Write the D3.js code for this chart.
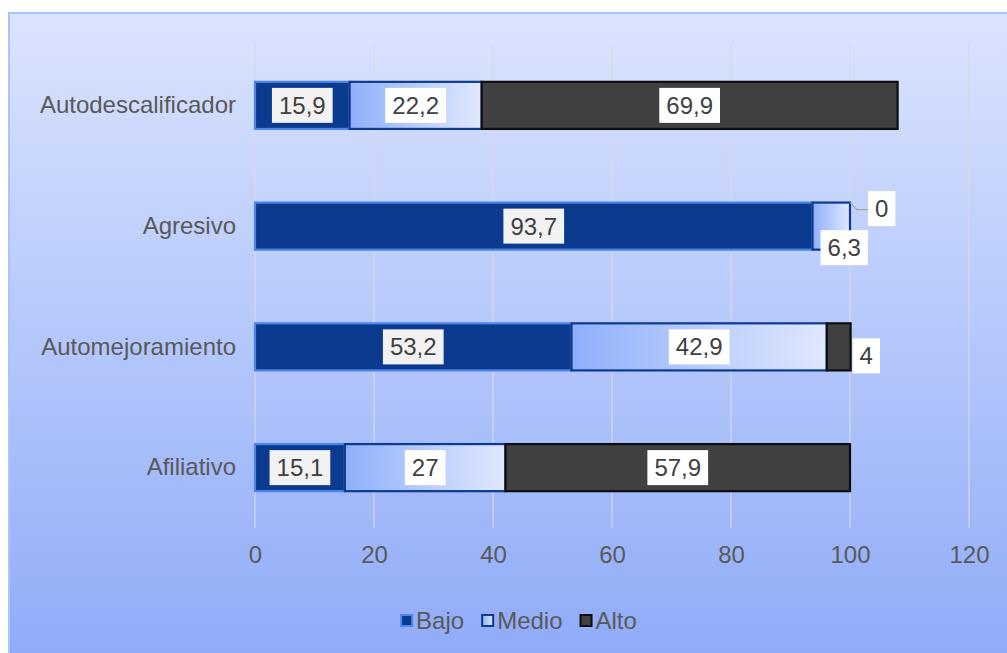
<!DOCTYPE html>
<html>
<head>
<meta charset="utf-8">
<script src="https://cdn.jsdelivr.net/npm/d3@7"></script>
<style>
  body { margin: 0; background: #fff; }
  svg { display: block; font-family: "Liberation Sans", Arial, sans-serif; }
</style>
</head>
<body>
<div id="chart"></div>
<script>
// data
const categories = ["Autodescalificador", "Agresivo", "Automejoramiento", "Afiliativo"];
const seriesNames = ["Bajo", "Medio", "Alto"];
const bajo = [15.9, 93.7, 53.2, 15.1];
const medio = [22.2, 6.3, 42.9, 27];
const alto = [69.9, 0, 4, 57.9];
const xTicks = [0, 20, 40, 60, 80, 100, 120];

const width = 1007, height = 653;
const FONT = 24;

let rows = categories.map(function(c, i) {
    return {cat: c, Bajo: bajo[i], Medio: medio[i], Alto: alto[i]};
});

let svg = d3.select("#chart").append("svg")
    .attr("width", width)
    .attr("height", height);

let defs = svg.append("defs");

let bg = defs.append("linearGradient").attr("id", "bg")
    .attr("x1", 0).attr("y1", 0).attr("x2", 0).attr("y2", 1);
bg.append("stop").attr("offset", 0).attr("stop-color", "#dbe4fe");
bg.append("stop").attr("offset", 1).attr("stop-color", "#8ca9f8");

let mg = defs.append("linearGradient").attr("id", "medio")
    .attr("x1", 0).attr("y1", 0).attr("x2", 1).attr("y2", 0);
mg.append("stop").attr("offset", 0).attr("stop-color", "#8eaefa");
mg.append("stop").attr("offset", 0.15).attr("stop-color", "#9bb8fb");
mg.append("stop").attr("offset", 1).attr("stop-color", "#e0e8fe");

// frame (runs off the right / bottom edge like the original)
svg.append("rect")
    .attr("x", 9).attr("y", 13)
    .attr("width", width + 20).attr("height", height + 20)
    .attr("fill", "url(#bg)")
    .attr("stroke", "#a9c6f8")
    .attr("stroke-width", 2);

let x = d3.scaleLinear().domain([0, 120]).range([255, 969]);
let y = d3.scaleBand().domain(categories).range([45, 528])
    .paddingInner(0.61).paddingOuter(0.305);

// gridlines
svg.append("g").selectAll("line").data(xTicks).enter()
    .append("line")
    .attr("x1", function(d) { return x(d); })
    .attr("x2", function(d) { return x(d); })
    .attr("y1", 45).attr("y2", 528)
    .attr("stroke", "#d6d9e2")
    .attr("stroke-width", 1.2);

// x axis labels
let xAxis = svg.append("g").attr("transform", "translate(0,555)")
    .call(d3.axisBottom(x).tickValues(xTicks).tickSize(0).tickPadding(0));
xAxis.select(".domain").remove();
xAxis.selectAll("text")
    .attr("dy", "0.35em")
    .attr("fill", "#595959")
    .style("font-size", FONT + "px")
    .style("font-family", "Liberation Sans, Arial, sans-serif");

// category labels
let yAxis = svg.append("g").attr("transform", "translate(236,0)")
    .call(d3.axisLeft(y).tickSize(0).tickPadding(0));
yAxis.select(".domain").remove();
yAxis.selectAll("text")
    .attr("fill", "#595959")
    .style("font-size", FONT + "px")
    .style("font-family", "Liberation Sans, Arial, sans-serif");

let styles = {
    Bajo: {fill: "#0b3a8f", stroke: "#4c86ea", box: "#f2f2f2"},
    Medio: {fill: "url(#medio)", stroke: "#0b3a8f", box: "#ffffff"},
    Alto: {fill: "#404040", stroke: "#0d0d0d", box: "#ffffff"}
};

let stacked = d3.stack().keys(seriesNames)(rows);

let barsG = svg.append("g");
stacked.forEach(function(layer) {
    barsG.append("g").selectAll("rect")
        .data(layer.filter(function(d) { return d[1] > d[0]; }))
        .enter().append("rect")
        .attr("x", function(d) { return x(d[0]); })
        .attr("y", function(d) { return y(d.data.cat); })
        .attr("width", function(d) { return x(d[1]) - x(d[0]); })
        .attr("height", y.bandwidth())
        .attr("fill", styles[layer.key].fill)
        .attr("stroke", styles[layer.key].stroke)
        .attr("stroke-width", 2.2);
});

// data labels
let labelsG = svg.append("g");
function fmt(v) { return String(v).replace(".", ","); }

stacked.forEach(function(layer, si) {
    layer.forEach(function(d) {
        let v = d[1] - d[0];
        v = Math.round(v * 10) / 10;
        let top = y(d.data.cat), bw = y.bandwidth();
        let g = labelsG.append("g");
        let t = g.append("text")
            .text(fmt(v))
            .attr("fill", "#404040")
            .attr("text-anchor", "middle")
            .attr("dy", "0.35em")
            .style("font-size", FONT + "px");
        let tw = t.node().getComputedTextLength();
        let boxW = tw + 14, boxH = 35;
        let segW = x(d[1]) - x(d[0]);
        let cx = (x(d[0]) + x(d[1])) / 2, cy = top + bw / 2;

        // is there a zero-valued segment after this one in the same row?
        let zeroAfter = seriesNames.slice(si + 1).some(function(k) { return d.data[k] === 0; });

        if (v === 0) {
            let ex = x(d[1]);
            cx = ex + 18 + boxW / 2;
            cy = top + 6;
            labelsG.append("polyline")
                .attr("points", [[ex, top], [ex + 7, top + 7], [ex + 18, top + 7]].join(" "))
                .attr("fill", "none")
                .attr("stroke", "#a6a6a6")
                .attr("stroke-width", 1.2);
        } else if (segW < boxW + 4 && zeroAfter) {
            cx = cx + 13;
            cy = top + bw - 2;
        } else if (segW < boxW + 4) {
            cx = x(d[1]) + 2 + boxW / 2;
            cy = cy + 9;
        }

        g.insert("rect", "text")
            .attr("x", cx - boxW / 2)
            .attr("y", cy - boxH / 2)
            .attr("width", boxW)
            .attr("height", boxH)
            .attr("fill", styles[layer.key].box);
        t.attr("x", cx).attr("y", cy);
    });
});

// legend
let legend = svg.append("g");
let items = [];
seriesNames.forEach(function(s) {
    let it = legend.append("g");
    it.append("rect")
        .attr("width", 11).attr("height", 11)
        .attr("fill", styles[s].fill)
        .attr("stroke", styles[s].stroke)
        .attr("stroke-width", 2);
    let tx = it.append("text")
        .text(s)
        .attr("x", 15)
        .attr("y", 5.5)
        .attr("dy", "0.35em")
        .attr("fill", "#595959")
        .style("font-size", FONT + "px");
    items.push({g: it, w: 15 + tx.node().getComputedTextLength()});
});
let gap = 18;
let totalW = d3.sum(items, function(d) { return d.w; }) + gap * (items.length - 1);
let lx = 519 - totalW / 2;
items.forEach(function(it) {
    it.g.attr("transform", "translate(" + lx + ",615)");
    lx += it.w + gap;
});
</script>
</body>
</html>
